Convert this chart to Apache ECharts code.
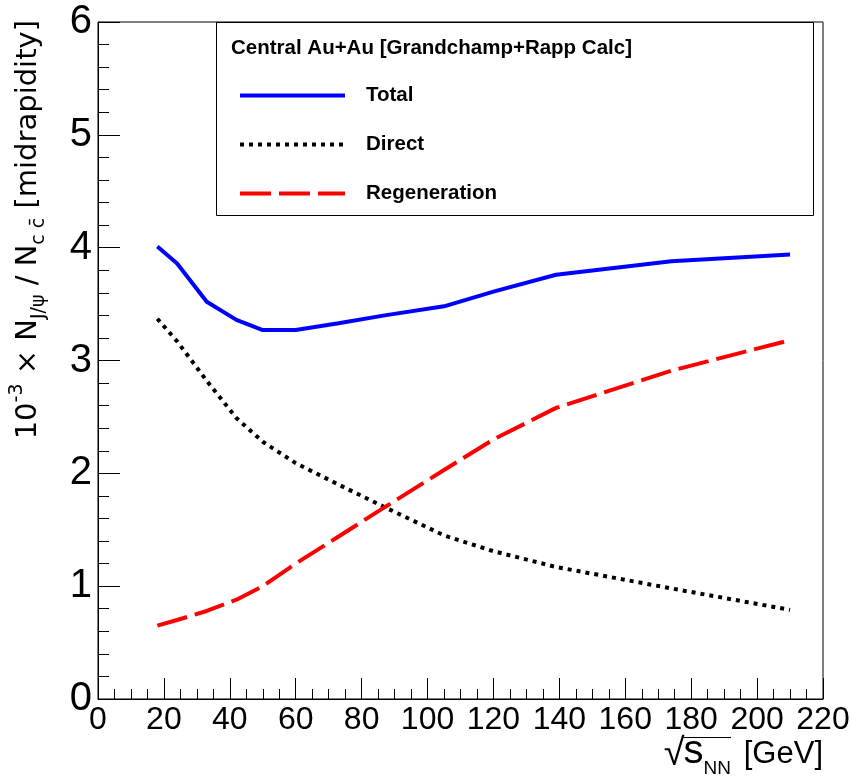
<!DOCTYPE html>
<html>
<head>
<meta charset="utf-8">
<script src="https://cdn.jsdelivr.net/npm/echarts@6/dist/echarts.min.js"></script>
<style>
  html, body { margin: 0; padding: 0; background: #fff; }
  #chart { width: 852px; height: 778px; }
</style>
</head>
<body>
<div id="chart"></div>
<script>
// Collision energies (GeV) and J/psi yields per c-cbar pair (x 10^-3), central Au+Au
const energies     = [18, 24, 33, 42, 50, 60, 73, 87, 105, 120, 139, 174, 210];
const totalYield   = [4.01, 3.86, 3.52, 3.36, 3.27, 3.27, 3.33, 3.40, 3.48, 3.61, 3.76, 3.88, 3.94];
const directYield  = [3.37, 3.17, 2.82, 2.49, 2.28, 2.09, 1.90, 1.70, 1.45, 1.31, 1.17, 0.98, 0.79];
const regenYield   = [0.65, 0.70, 0.78, 0.88, 1.00, 1.20, 1.44, 1.70, 2.03, 2.30, 2.58, 2.91, 3.18];

const seriesNames  = ['Total', 'Direct', 'Regeneration'];
const legendTitle  = 'Central Au+Au [Grandchamp+Rapp Calc]';

const pairs = ys => energies.map((e, i) => [e, ys[i]]);

const sansFont = 'Liberation Sans, Arial, sans-serif';

// width of the radicand "s_NN" so the overline of the square root spans it
const measureCtx = document.createElement('canvas').getContext('2d');
measureCtx.font = '40px ' + sansFont;
const wS = measureCtx.measureText('s').width;
measureCtx.font = '19px ' + sansFont;
const wNN = measureCtx.measureText('NN').width;
const radicandRight = 731;
const radicandLeft = radicandRight - wS - wNN;

const chart = echarts.init(document.getElementById('chart'), null, { renderer: 'canvas' });

chart.setOption({
  animation: false,
  backgroundColor: '#fff',
  title: {
    text: legendTitle,
    left: 226,
    top: 33,
    textStyle: { fontFamily: sansFont, fontWeight: 'bold', fontSize: 20.5, color: '#000' }
  },
  legend: {
    data: seriesNames,
    orient: 'vertical',
    left: 238,
    top: 85,
    padding: 0,
    itemWidth: 105,
    itemHeight: 14,
    itemGap: 28,
    itemStyle: { opacity: 0 },
    lineStyle: { width: 4 },
    textStyle: { fontFamily: sansFont, fontWeight: 'bold', fontSize: 20.5, color: '#000', padding: [0, 0, 0, 16] }
  },
  grid: {
    left: 98, right: 29, top: 22, bottom: 79,
    show: true, borderColor: '#000', borderWidth: 1,
    outerBoundsMode: 'none'
  },
  xAxis: {
    type: 'value',
    min: 0, max: 220, interval: 20,
    axisLine: { onZero: false, lineStyle: { color: '#000', width: 1 } },
    axisTick: { show: true, inside: true, length: 21, lineStyle: { color: '#000' } },
    minorTick: { show: true, splitNumber: 4, length: 10, lineStyle: { color: '#000' } },
    splitLine: { show: false },
    axisLabel: { margin: 5, fontFamily: sansFont, fontSize: 32, color: '#000' }
  },
  yAxis: {
    type: 'value',
    min: 0, max: 6, interval: 1,
    axisLine: { onZero: false, lineStyle: { color: '#000', width: 1 } },
    axisTick: { show: true, inside: true, length: 22, lineStyle: { color: '#000' } },
    minorTick: { show: true, splitNumber: 5, length: 11, lineStyle: { color: '#000' } },
    splitLine: { show: false },
    axisLabel: { margin: 6, fontFamily: sansFont, fontSize: 40, color: '#000' }
  },
  series: [
    {
      name: seriesNames[0], type: 'line', data: pairs(totalYield),
      symbol: 'none', color: '#0000ff',
      lineStyle: { color: '#0000ff', width: 4, type: 'solid' }
    },
    {
      name: seriesNames[1], type: 'line', data: pairs(directYield),
      symbol: 'none', color: '#000000',
      lineStyle: { color: '#000000', width: 4, type: [4, 5], cap: 'butt' }
    },
    {
      name: seriesNames[2], type: 'line', data: pairs(regenYield),
      symbol: 'none', color: '#ff0000',
      lineStyle: { color: '#ff0000', width: 4, type: [31, 8], cap: 'butt' }
    }
  ],
  graphic: [
    // legend frame
    {
      type: 'rect', z: 10, silent: true,
      shape: { x: 216.5, y: 22.5, width: 597, height: 193 },
      style: { fill: 'none', stroke: '#000', lineWidth: 1 }
    },
    // y-axis title
    {
      type: 'text', x: 28, y: 20, rotation: Math.PI / 2, silent: true,
      style: {
        text: '{m|10}{sup|-3}{m| × N}{sub|J/ψ}{m| / N}{sub|c c̄}{m| [midrapidity]}',
        align: 'right', verticalAlign: 'middle', fill: '#000',
        rich: {
          m:   { fontFamily: 'DejaVu Sans, sans-serif', fontSize: 29, lineHeight: 44, verticalAlign: 'middle', fill: '#000' },
          sup: { fontFamily: 'DejaVu Sans, sans-serif', fontSize: 19, lineHeight: 44, verticalAlign: 'top', fill: '#000', padding: [2, 0, 0, 0] },
          sub: { fontFamily: 'DejaVu Sans, sans-serif', fontSize: 19, lineHeight: 44, verticalAlign: 'bottom', fill: '#000', padding: [0, 0, 1, 0] }
        }
      }
    },
    // x-axis title: "[GeV]"
    {
      type: 'text', x: 823, y: 754, silent: true,
      style: {
        text: '[GeV]', align: 'right', verticalAlign: 'middle', fill: '#000',
        fontFamily: sansFont, fontSize: 31
      }
    },
    // x-axis title: radicand s_NN
    {
      type: 'text', x: radicandRight, y: 752, silent: true,
      style: {
        text: '{s|s}{sub|NN}',
        align: 'right', verticalAlign: 'middle', fill: '#000',
        rich: {
          s:   { fontFamily: sansFont, fontSize: 40, lineHeight: 52, verticalAlign: 'middle', fill: '#000' },
          sub: { fontFamily: sansFont, fontSize: 19, lineHeight: 52, verticalAlign: 'bottom', fill: '#000' }
        }
      }
    },
    // radical sign
    {
      type: 'text', x: radicandLeft + 1, y: 755, silent: true,
      style: {
        text: '√', align: 'right', verticalAlign: 'middle', fill: '#000',
        fontFamily: sansFont, fontSize: 38
      }
    },
    // radical overline
    {
      type: 'line', silent: true,
      shape: { x1: radicandLeft, y1: 737.5, x2: radicandRight, y2: 737.5 },
      style: { stroke: '#000', lineWidth: 1 }
    }
  ]
});
</script>
</body>
</html>
